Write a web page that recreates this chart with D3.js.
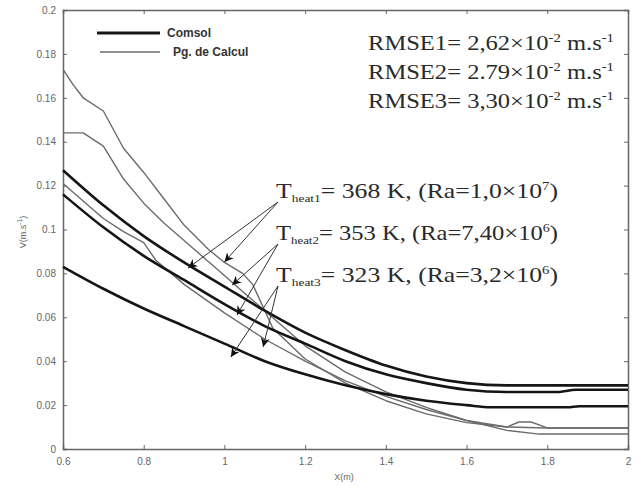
<!DOCTYPE html>
<html>
<head>
<meta charset="utf-8">
<script src="https://cdn.jsdelivr.net/npm/d3@7"></script>
<style>
  html, body { margin: 0; padding: 0; background: #fff; }
  svg { display: block; }
  .tick text { font-family: Arial, "Liberation Sans", sans-serif; font-size: 10px; fill: #666; }
  .note { font-family: "Liberation Serif", "Times New Roman", serif; fill: #2a2a2a; }
  .legend { font-family: Arial, "Liberation Sans", sans-serif; font-weight: bold; font-size: 12px; fill: #333; }
</style>
</head>
<body>
<svg id="chart" width="644" height="486"></svg>
<script>
// Comsol curves (thick black), [X, V]
var comsol1 = [[0.6,0.127],[0.7,0.111],[0.8,0.097],[0.9,0.085],[1.0,0.074],[1.1,0.063],[1.2,0.053],
  [1.3,0.045],[1.4,0.038],[1.5,0.033],[1.6,0.030],[1.7,0.029],[2.0,0.029]];
var comsol2 = [[0.6,0.116],[0.7,0.101],[0.8,0.088],[0.9,0.077],[1.0,0.066],[1.1,0.056],[1.2,0.048],
  [1.3,0.040],[1.4,0.034],[1.5,0.030],[1.6,0.027],[1.7,0.026],[1.83,0.026],[1.87,0.027],[2.0,0.027]];
var comsol3 = [[0.6,0.083],[0.7,0.073],[0.8,0.064],[0.9,0.056],[1.0,0.048],[1.1,0.040],[1.2,0.034],
  [1.3,0.029],[1.4,0.025],[1.5,0.022],[1.6,0.020],[1.66,0.019],[1.85,0.019],[1.88,0.0195],[2.0,0.0195]];

// Pg. de Calcul curves (thin grey)
var calcul1 = [[0.6,0.173],[0.625,0.166],[0.65,0.160],[0.7,0.154],[0.75,0.137],[0.8,0.126],[0.85,0.114],
  [0.9,0.102],[0.96,0.091],[1.0,0.085],[1.045,0.080],[1.07,0.075],[1.12,0.055],[1.2,0.041],[1.3,0.030],
  [1.4,0.022],[1.5,0.016],[1.6,0.012],[1.7,0.010],[1.73,0.0123],[1.76,0.0123],[1.8,0.0096],[2.0,0.0096]];
var calcul2 = [[0.6,0.144],[0.65,0.144],[0.7,0.138],[0.75,0.123],[0.8,0.112],[0.85,0.103],[0.9,0.095],
  [0.95,0.087],[1.0,0.079],[1.05,0.071],[1.1,0.063],[1.2,0.047],[1.3,0.035],[1.4,0.026],[1.5,0.019],
  [1.6,0.013],[1.7,0.0085],[1.78,0.0068],[2.0,0.0068]];
var calcul3 = [[0.6,0.121],[0.65,0.113],[0.7,0.105],[0.75,0.099],[0.8,0.094],[0.83,0.086],[0.9,0.075],
  [1.0,0.062],[1.1,0.050],[1.2,0.040],[1.3,0.031],[1.4,0.024],[1.5,0.018],[1.6,0.013],[1.7,0.010],
  [1.8,0.0096],[2.0,0.0096]];

var xTicks = [0.6, 0.8, 1, 1.2, 1.4, 1.6, 1.8, 2];
var yTicks = [0, 0.02, 0.04, 0.06, 0.08, 0.1, 0.12, 0.14, 0.16, 0.18, 0.2];

var legendItems = ["Comsol", "Pg. de Calcul"];

// RMSE notes: [label, mantissa]
var rmseNotes = [["RMSE1", "2,62"], ["RMSE2", "2.79"], ["RMSE3", "3,30"]];
// heat notes: [index, temperature, Ra mantissa, Ra exponent]
var heatNotes = [["1", "368", "1,0", "7"], ["2", "353", "7,40", "6"], ["3", "323", "3,2", "6"]];
// arrow tips for each heat note, [X, V]
var heatArrows = [
  [[0.91, 0.0825], [1.0, 0.0852]],
  [[1.019, 0.0747], [1.031, 0.061]],
  [[1.096, 0.0465], [1.016, 0.0419]]
];

var svg = d3.select("#chart"),
    margin = {top: 10, right: 16, bottom: 37, left: 63},
    width = 644 - margin.left - margin.right,
    height = 486 - margin.top - margin.bottom;

var x = d3.scaleLinear().domain([0.6, 2]).range([margin.left, margin.left + width]);
var y = d3.scaleLinear().domain([0, 0.2]).range([margin.top + height, margin.top]);

var fmt = function(d) { return d3.format("")(+d.toFixed(2)); };

// axes, MATLAB style inward ticks
svg.append("g").attr("transform", "translate(0," + y(0) + ")")
  .call(d3.axisBottom(x).tickValues(xTicks).tickSize(-4).tickPadding(9).tickFormat(fmt));
svg.append("g").attr("transform", "translate(" + x(0.6) + ",0)")
  .call(d3.axisLeft(y).tickValues(yTicks).tickSize(-4).tickPadding(7).tickFormat(fmt));
svg.append("g").attr("transform", "translate(0," + y(0.2) + ")")
  .call(d3.axisTop(x).tickValues(xTicks).tickSize(-4).tickFormat(""));
svg.append("g").attr("transform", "translate(" + x(2) + ",0)")
  .call(d3.axisRight(y).tickValues(yTicks).tickSize(-4).tickFormat(""));
svg.selectAll(".domain").attr("stroke", "#666").attr("stroke-width", 1.5);
svg.selectAll(".tick line").attr("stroke", "#666");

// axis labels
svg.append("text").attr("x", 344).attr("y", 480).attr("text-anchor", "middle")
  .style("font-family", "Arial, sans-serif").style("font-size", "9px").style("fill", "#666")
  .text("X(m)");
var yl = svg.append("text").attr("transform", "translate(26,232) rotate(-90)")
  .attr("text-anchor", "middle")
  .style("font-family", "Arial, sans-serif").style("font-size", "9px").style("fill", "#666");
yl.append("tspan").text("V(m.s");
yl.append("tspan").attr("dy", -4).style("font-size", "7px").text("-1");
yl.append("tspan").attr("dy", 4).text(")");

var smooth = d3.line().x(function(d) { return x(d[0]); }).y(function(d) { return y(d[1]); })
  .curve(d3.curveMonotoneX);
var straight = d3.line().x(function(d) { return x(d[0]); }).y(function(d) { return y(d[1]); });

// grey computed curves
[calcul1, calcul2, calcul3].forEach(function(s) {
  svg.append("path").datum(s).attr("d", straight)
    .attr("fill", "none").attr("stroke", "#6b6b6b").attr("stroke-width", 1.4)
    .attr("stroke-linejoin", "round");
});
// black comsol curves
[comsol1, comsol2, comsol3].forEach(function(s) {
  svg.append("path").datum(s).attr("d", smooth)
    .attr("fill", "none").attr("stroke", "#151515").attr("stroke-width", 2.6);
});

// legend
var lg = svg.append("g");
legendItems.forEach(function(name, i) {
  var ly = 33 + i * 19;
  lg.append("line").attr("x1", i ? 100 : 97).attr("x2", 160).attr("y1", ly).attr("y2", ly)
    .attr("stroke", i ? "#6b6b6b" : "#151515").attr("stroke-width", i ? 1.6 : 3);
  lg.append("text").attr("class", "legend").attr("x", i ? 173 : 167).attr("y", ly + 4).text(name);
});

// RMSE notes
rmseNotes.forEach(function(r, i) {
  var t = svg.append("text").attr("class", "note").attr("x", 368).attr("y", 50 + i * 29)
    .attr("textLength", 246).attr("lengthAdjust", "spacingAndGlyphs")
    .style("font-size", "20px");
  t.append("tspan").text(r[0] + "= " + r[1] + "\u00d710");
  t.append("tspan").attr("dy", -8).style("font-size", "12px").text("-2");
  t.append("tspan").attr("dy", 8).text(" m.s");
  t.append("tspan").attr("dy", -8).style("font-size", "12px").text("-1");
});

// arrowhead
svg.append("defs").append("marker").attr("id", "arr")
  .attr("viewBox", "0 0 10 10").attr("refX", 10).attr("refY", 5)
  .attr("markerWidth", 9).attr("markerHeight", 9).attr("markerUnits", "userSpaceOnUse")
  .attr("orient", "auto")
  .append("path").attr("d", "M0,0 L10,5 L0,10 L3,5 z").attr("fill", "#111");

// heat notes with arrows
heatNotes.forEach(function(h, i) {
  var bx = 276, by = 198 + i * 42;
  var t = svg.append("text").attr("class", "note").attr("x", bx).attr("y", by)
    .attr("textLength", 282).attr("lengthAdjust", "spacingAndGlyphs")
    .style("font-size", "21px");
  t.append("tspan").text("T");
  t.append("tspan").attr("dy", 4).style("font-size", "11px").text("heat" + h[0]);
  t.append("tspan").attr("dy", -4).text("= " + h[1] + " K, (Ra=" + h[2] + "\u00d710");
  t.append("tspan").attr("dy", -8).style("font-size", "12px").text(h[3]);
  t.append("tspan").attr("dy", 8).text(")");
  heatArrows[i].forEach(function(p) {
    svg.append("line").attr("x1", bx + 2).attr("y1", by + 4)
      .attr("x2", x(p[0])).attr("y2", y(p[1]))
      .attr("stroke", "#333").attr("stroke-width", 1)
      .attr("marker-end", "url(#arr)");
  });
});
</script>
</body>
</html>
